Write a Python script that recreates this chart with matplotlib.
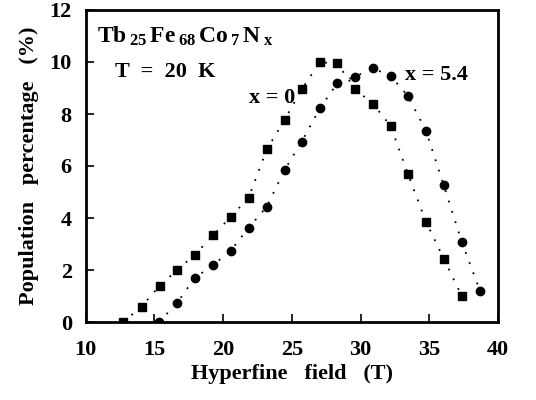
import matplotlib
matplotlib.use('Agg')
import matplotlib.pyplot as plt

plt.rcParams['font.family'] = ['Liberation Serif', 'DejaVu Serif']
plt.rcParams['font.weight'] = 'bold'
plt.rcParams['mathtext.fontset'] = 'custom'
plt.rcParams['mathtext.rm'] = 'Liberation Serif:bold'
plt.rcParams['mathtext.it'] = 'Liberation Serif:bold'
plt.rcParams['mathtext.bf'] = 'Liberation Serif:bold'

# x = 0 (squares)
field_x0 = [12.72, 14.06, 15.39, 16.65, 17.94, 19.27, 20.54, 21.85, 23.18, 24.47,
            25.71, 27.04, 28.30, 29.61, 30.92, 32.19, 33.45, 34.76, 36.05, 37.36]
pop_x0 = [0.0, 0.59, 1.40, 2.0, 2.59, 3.33, 4.04, 4.78, 6.64, 7.77,
          8.95, 9.99, 9.95, 8.96, 8.38, 7.54, 5.69, 3.86, 2.44, 1.01]

# x = 5.4 (circles)
field_x54 = [15.34, 16.65, 17.94, 19.27, 20.54, 21.85, 23.18, 24.47, 25.71, 27.04,
             28.30, 29.61, 30.92, 32.19, 33.45, 34.76, 36.05, 37.36, 38.70]
pop_x54 = [0.0, 0.74, 1.70, 2.19, 2.74, 3.62, 4.44, 5.85, 6.93, 8.22,
           9.18, 9.44, 9.76, 9.46, 8.69, 7.36, 5.27, 3.09, 1.19]

fig = plt.figure(figsize=(5.36, 4.0), dpi=100)
ax = fig.add_axes([0.160, 0.195, 0.769, 0.780])

ax.plot(field_x0, pop_x0, color='k', ls=(0, (1, 5)), lw=1.3, marker='s', ms=5.5)
ax.plot(field_x54, pop_x54, color='k', ls=(0, (1, 5)), lw=1.3, marker='o', ms=6)

ax.set_xlim(10, 40)
ax.set_ylim(0, 12)
ax.set_xticks([10, 15, 20, 25, 30, 35, 40])
ax.set_yticks([0, 2, 4, 6, 8, 10, 12])
ax.tick_params(direction='in', length=6, width=1.2, labelsize=16)
ax.tick_params(axis='x', pad=13)
ax.tick_params(axis='y', pad=10)
for s in ax.spines.values():
    s.set_linewidth(2)

ax.set_xlabel('Hyperfine   field   (T)', fontsize=16, fontweight='bold', labelpad=3)
ax.set_ylabel('Population   percentage   (%)', fontsize=16, fontweight='bold', labelpad=8)

# compound label, a bit of spacing round the subscripts like the scan
ax.text(10.8, 10.73, r'Tb$\,{}_{25}\,$Fe$\,{}_{68}\,$Co$\,{}_{7}\,$N$\,{}_{x}$',
        fontsize=17, fontweight='bold')
ax.text(12.1, 9.42, 'T  =  20  K', fontsize=16, fontweight='bold')
ax.text(21.9, 8.42, 'x = 0', fontsize=16, fontweight='bold')
ax.text(33.2, 9.31, 'x = 5.4', fontsize=16, fontweight='bold')

fig.savefig('out.png', dpi=100)
